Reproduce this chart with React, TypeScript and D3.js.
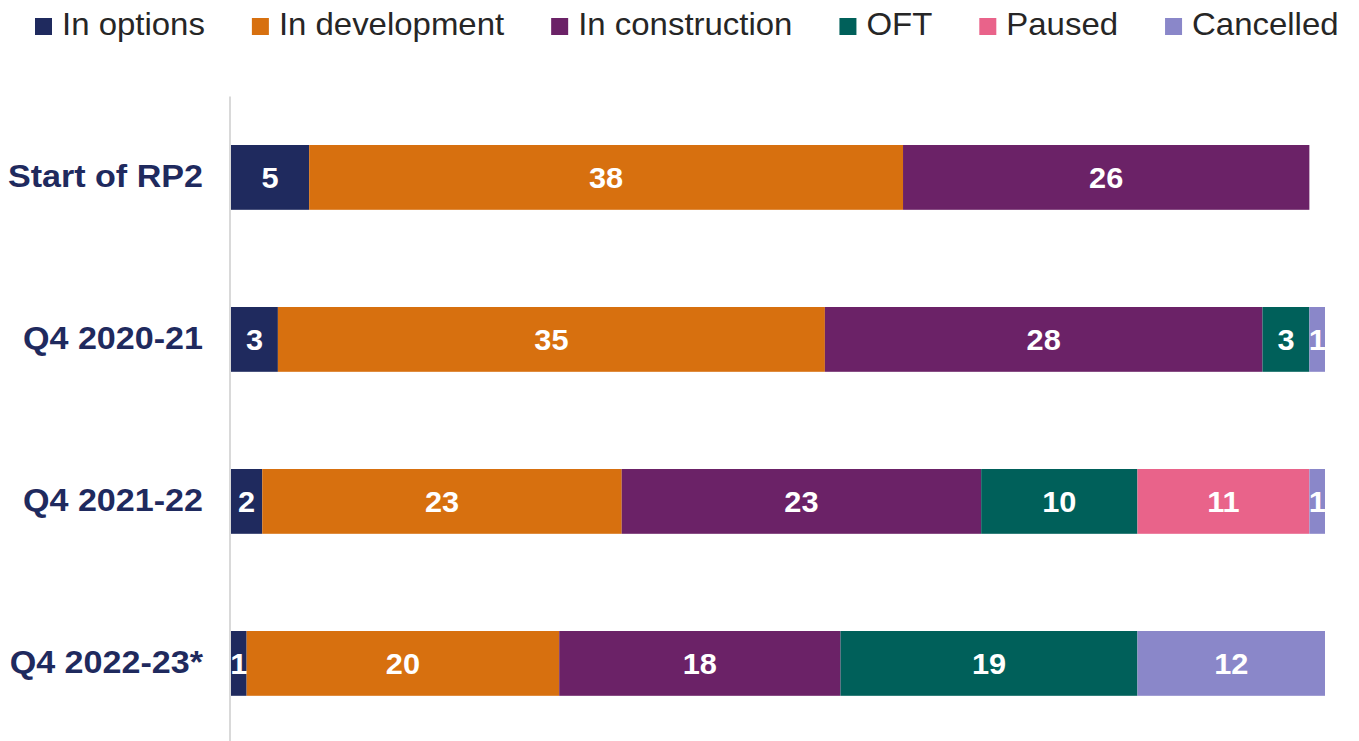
import { useEffect, useRef } from 'react';
import * as d3 from 'd3';

const categories = ['Start of RP2', 'Q4 2020-21', 'Q4 2021-22', 'Q4 2022-23*'];
const seriesNames = ['In options', 'In development', 'In construction', 'OFT', 'Paused', 'Cancelled'];
const seriesColors = ['#1f2a5e', '#d7700f', '#6b2267', '#00605a', '#e9638a', '#8a87c9'];

const inOptions = [5, 3, 2, 1];
const inDevelopment = [38, 35, 23, 20];
const inConstruction = [26, 28, 23, 18];
const oft = [0, 3, 10, 19];
const paused = [0, 0, 11, 0];
const cancelled = [0, 1, 1, 12];

const App = () => {
  const svgRef = useRef<SVGSVGElement | null>(null);

  useEffect(() => {
    const width = 1359;
    const height = 741;
    const font = '"Liberation Sans", Arial, sans-serif';

    const seriesValues = [inOptions, inDevelopment, inConstruction, oft, paused, cancelled];
    const rows = categories.map((c, i) => {
      const row: any = { cat: c };
      seriesNames.forEach((s, j) => { row[s] = seriesValues[j][i]; });
      return row;
    });

    const svg = d3.select(svgRef.current);
    svg.selectAll('*').remove();
    svg.attr('width', width).attr('height', height);

    const x = d3.scaleLinear().domain([0, 70]).range([231, 1325]);
    const y = d3.scaleBand()
      .domain(categories)
      .range([96.4, 744.4])
      .paddingInner(0.6)
      .paddingOuter(0.3);

    const stacked = d3.stack().keys(seriesNames)(rows);
    const color = d3.scaleOrdinal<string, string>().domain(seriesNames).range(seriesColors);

    // Axis line
    svg.append('line')
      .attr('x1', 230).attr('x2', 230)
      .attr('y1', y.range()[0]).attr('y2', height)
      .attr('stroke', '#d9d9d9')
      .attr('stroke-width', 2);

    // Bars
    const groups = svg.selectAll('g.series')
      .data(stacked)
      .join('g')
      .attr('class', 'series')
      .attr('fill', d => color(d.key));

    groups.selectAll('rect')
      .data(d => d.filter(p => p[1] - p[0] > 0))
      .join('rect')
      .attr('x', d => x(d[0]))
      .attr('y', d => y(d.data.cat as any)!)
      .attr('width', d => x(d[1]) - x(d[0]))
      .attr('height', y.bandwidth());

    // Value labels
    stacked.forEach(s => {
      svg.append('g').selectAll('text')
        .data(s.filter(p => p[1] - p[0] > 0))
        .join('text')
        .attr('transform', d => `translate(${(x(d[0]) + x(d[1])) / 2},${y(d.data.cat as any)! + y.bandwidth() / 2 + 10.5}) scale(1.06,1)`)
        .attr('text-anchor', 'middle')
        .attr('fill', '#fff')
        .style('font-family', font)
        .style('font-weight', 'bold')
        .style('font-size', '29px')
        .text(d => d[1] - d[0]);
    });

    // Category labels
    svg.append('g').selectAll('text')
      .data(categories)
      .join('text')
      .attr('transform', d => `translate(203,${y(d)! + y.bandwidth() / 2 + 10}) scale(1.1,1)`)
      .attr('text-anchor', 'end')
      .attr('fill', '#1f2a5e')
      .style('font-family', font)
      .style('font-weight', 'bold')
      .style('font-size', '31px')
      .text(d => d);

    // Legend
    const legend = svg.append('g');
    const sx = 1.03;
    let lx = 35;
    seriesNames.forEach(name => {
      legend.append('rect')
        .attr('x', lx).attr('y', 18)
        .attr('width', 17).attr('height', 17)
        .attr('fill', color(name));
      const t = legend.append('text')
        .attr('transform', `translate(${lx + 27},35) scale(${sx},1)`)
        .attr('fill', '#262626')
        .style('font-family', font)
        .style('font-size', '32px')
        .text(name);
      const w = (t.node() as SVGTextElement).getComputedTextLength() * sx;
      lx += 27 + w + 47;
    });
  }, []);

  return (
    <div style={{ position: 'fixed', left: 0, top: 0, background: '#fff' }}>
      <svg ref={svgRef} style={{ display: 'block' }} />
    </div>
  );
};

export default App;
